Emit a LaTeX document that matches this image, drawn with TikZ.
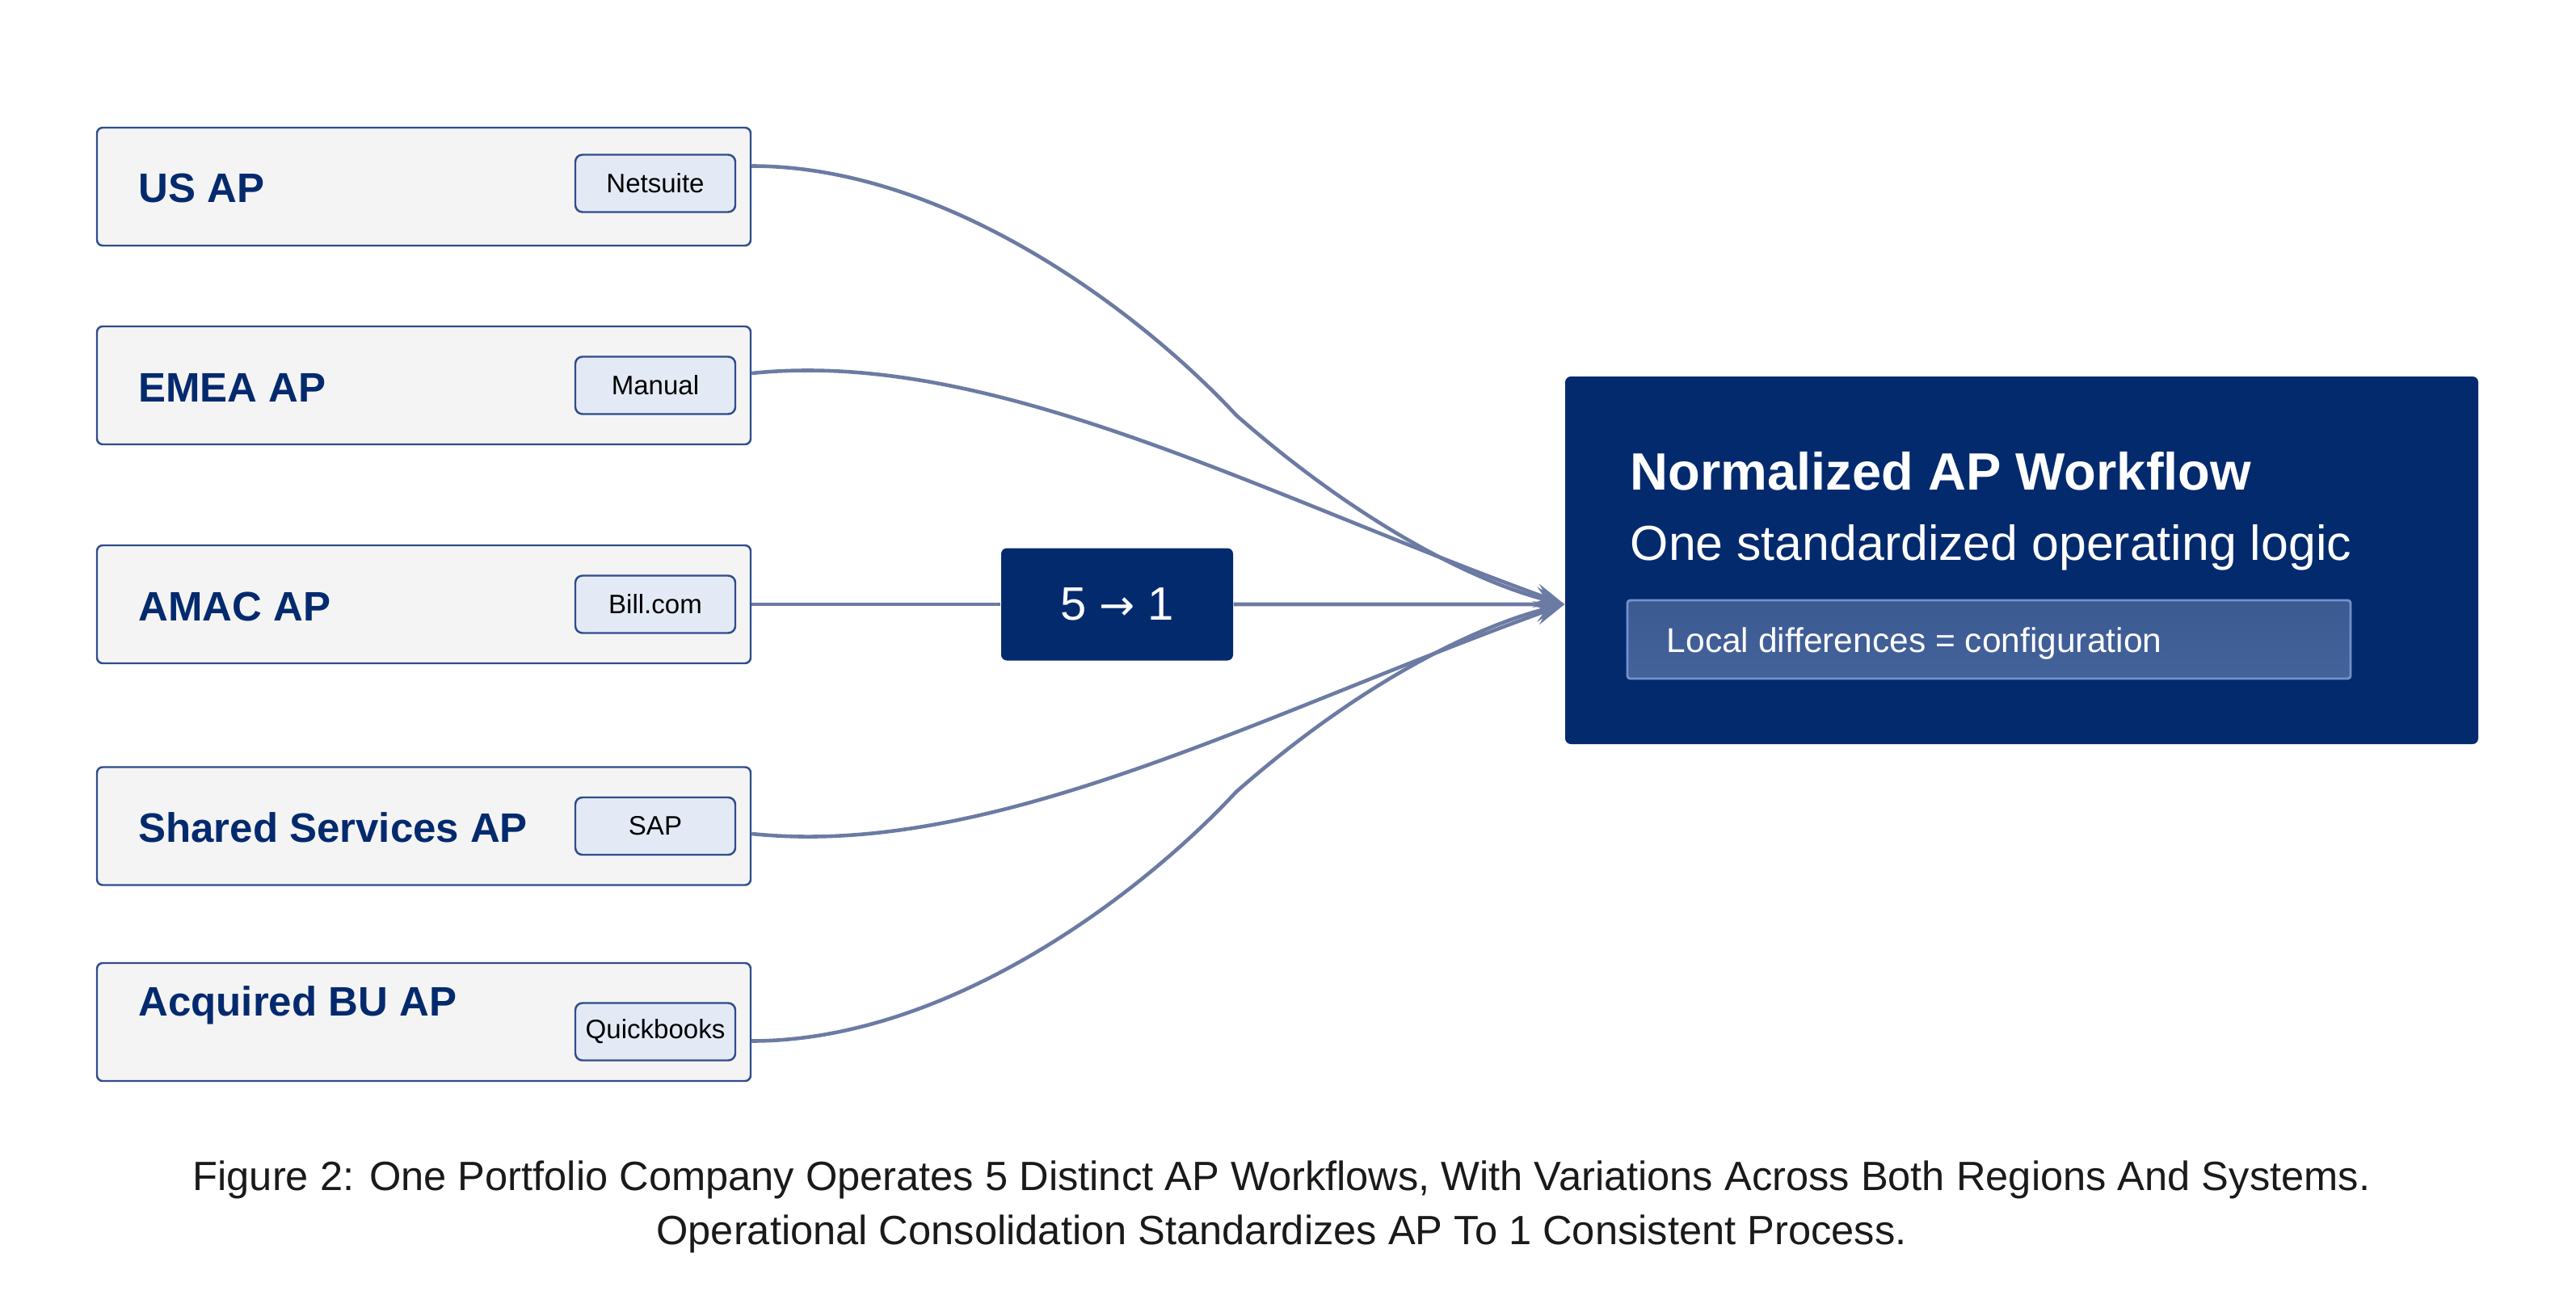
\documentclass[tikz,border=0pt]{standalone}
\usepackage{fontspec}
\setmainfont{Liberation Sans}
\newfontfamily\arrowfont{DejaVu Sans}
\usetikzlibrary{arrows.meta}
\definecolor{navy}{RGB}{4,42,110}
\definecolor{lanefill}{HTML}{F4F4F4}
\definecolor{laneborder}{HTML}{2F4D8C}
\definecolor{tagfill}{HTML}{E4EAF5}
\definecolor{wireblue}{HTML}{6B7BA3}
\definecolor{localfill}{HTML}{3C5A92}
\definecolor{localborder}{HTML}{7391CC}
\definecolor{captext}{HTML}{1A1A1A}
\begin{document}
\begin{tikzpicture}[
  lane/.style={draw=laneborder, line width=0.7pt, fill=lanefill, rounded corners=2pt,
    minimum width=8.09cm, minimum height=1.46cm},
  lanetext/.style={anchor=base west, inner sep=0pt, text=navy,
    font=\fontsize{14.5}{17}\selectfont\bfseries},
  systag/.style={draw=laneborder, line width=0.7pt, fill=tagfill, rounded corners=2.5pt,
    minimum width=1.98cm, minimum height=0.71cm, inner sep=0pt, anchor=east,
    font=\fontsize{9.4}{11}\selectfont},
  wire/.style={draw=wireblue, line width=1.3pt},
  tip/.style={-{Stealth[length=3.8mm,width=2.6mm,inset=1.5mm]}},
  darkbox/.style={fill=navy, rounded corners=2pt},
]
% Lienzo
\fill[white] (0,0) rectangle (31.88,16.18);
\useasboundingbox (0,0) rectangle (31.88,16.18);
% Flujos regionales
\node[lane] (us) at (5.245,13.87) {};
\node[lane] (emea) at (5.245,11.41) {};
\node[lane] (amac) at (5.245,8.70) {};
\node[lane] (shared) at (5.245,5.955) {};
\node[lane] (acq) at (5.245,3.53) {};
\node[lanetext] (ustxt) at ([xshift=5.2mm,yshift=-2.0mm]us.west) {US AP};
\node[lanetext] (emeatxt) at ([xshift=5.2mm,yshift=-2.0mm]emea.west) {EMEA AP};
\node[lanetext] (amactxt) at ([xshift=5.2mm,yshift=-2.0mm]amac.west) {AMAC AP};
\node[lanetext] (sharedtxt) at ([xshift=5.2mm,yshift=-2.0mm]shared.west) {Shared Services AP};
\node[lanetext] (acqtxt) at ([xshift=5.2mm,yshift=0.8mm]acq.west) {Acquired BU AP};
% Sistemas
\node[systag] (ustag) at ([xshift=-1.9mm,yshift=0.4mm]us.east) {Netsuite};
\node[systag] (emeatag) at ([xshift=-1.9mm]emea.east) {Manual};
\node[systag] (amactag) at ([xshift=-1.9mm]amac.east) {Bill.com};
\node[systag] (sharedtag) at ([xshift=-1.9mm]shared.east) {SAP};
\node[systag] (acqtag) at ([xshift=-1.9mm,yshift=-1.2mm]acq.east) {Quickbooks};
% Consolidacion
\node[darkbox, minimum width=2.87cm, minimum height=1.39cm, text=white,
  font=\fontsize{16.5}{18}\selectfont] (ratio) at (13.825,8.70)
  {5 {\arrowfont\fontsize{15}{15}\selectfont →} 1};
\node[darkbox, minimum width=11.30cm, minimum height=4.55cm] (norm) at (25.02,9.245) {};
\coordinate (hub) at ([yshift=-5.45mm]norm.west);
\node[anchor=base west, inner sep=0pt, text=white, font=\fontsize{18.5}{21}\selectfont\bfseries]
  (normtitle) at (20.17,10.12) {Normalized AP Workflow};
\node[anchor=base west, inner sep=0pt, text=white, font=\fontsize{17.3}{20}\selectfont]
  (normsub) at (20.17,9.25) {One standardized operating logic};
\node[draw=localborder, line width=0.8pt, top color=localfill, bottom color=localfill!85!localborder,
  rounded corners=1pt, minimum width=8.95cm, minimum height=0.97cm] (local) at (24.615,8.265) {};
\node[anchor=base west, inner sep=0pt, text=white, font=\fontsize{12.1}{14}\selectfont]
  (localtxt) at (20.62,8.11) {Local differences = configuration};
% Conexiones
\coordinate (k1) at (15.30,11.04);
\coordinate (k2) at (15.30,6.38);
\draw[wire, tip] ([yshift=2.55mm]us.east) .. controls +(2.4,0) and +(-1.22,1.31) .. (k1)
  .. controls +(1.65,-1.45) and +(-0.97,0.235) .. (hub);
\draw[wire, tip] ([yshift=1.5mm]emea.east) .. controls +(2.98,0.31) and +(-3.76,1.36) .. (hub);
\draw[wire] (amac.east) -- (ratio.west);
\draw[wire, tip] (ratio.east) -- (hub);
\draw[wire, tip] ([yshift=-0.95mm]shared.east) .. controls +(2.98,-0.31) and +(-3.76,-1.36) .. (hub);
\draw[wire, tip] ([yshift=-2.35mm]acq.east) .. controls +(2.4,0) and +(-1.22,-1.31) .. (k2)
  .. controls +(1.65,1.45) and +(-0.97,-0.235) .. (hub);
% Leyenda
\node[align=center, text=captext, inner sep=0pt, font=\fontsize{14.4}{19}\selectfont]
  (caption) at (15.86,1.24)
  {Figure 2: One Portfolio Company Operates 5 Distinct AP Workflows, With Variations Across Both Regions And Systems.\\
   Operational Consolidation Standardizes AP To 1 Consistent Process.};
\end{tikzpicture}
\end{document}
